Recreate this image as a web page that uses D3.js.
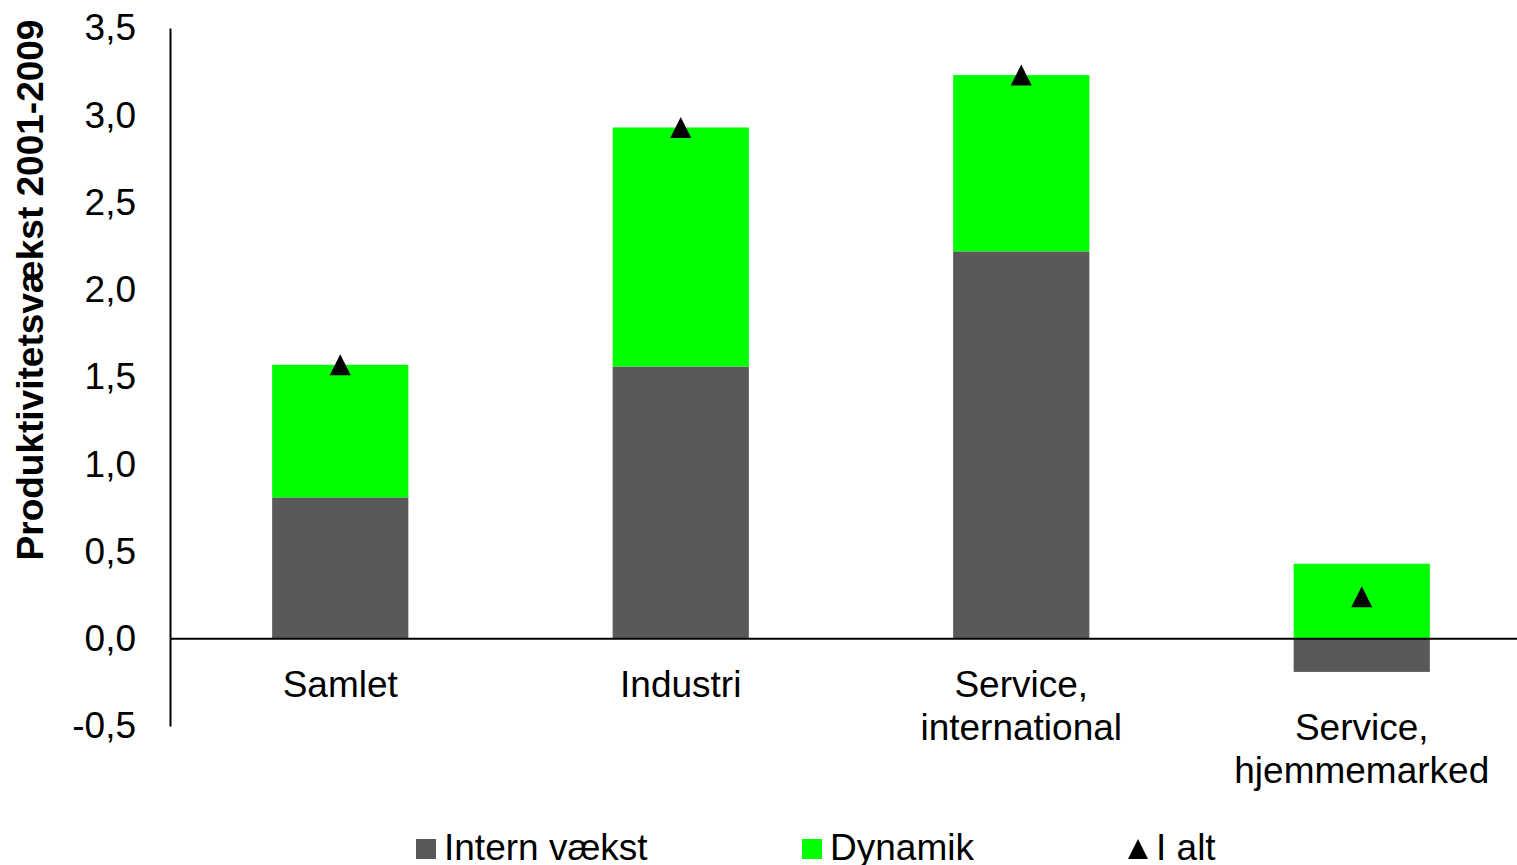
<!DOCTYPE html>
<html>
  <head>
    <script src="https://d3js.org/d3.v7.min.js"></script>
    <style>
      html, body { margin: 0; padding: 0; background: #fff; }
      svg { display: block; font-family: "Liberation Sans", Arial, sans-serif; }
    </style>
  </head>
  <body>
    <svg id="chart" width="1517" height="865"></svg>
    <script>
      // data
      var categories = ["Samlet", "Industri", "Service, international", "Service, hjemmemarked"];
      var labelLines = [["Samlet"], ["Industri"], ["Service,", "international"], ["", "Service,", "hjemmemarked"]];
      var intern = [0.81, 1.56, 2.22, -0.19];
      var dynamik = [0.76, 1.37, 1.01, 0.43];
      var iAlt = [1.57, 2.93, 3.23, 0.24];
      var yTicks = [-0.5, 0, 0.5, 1, 1.5, 2, 2.5, 3, 3.5];
      var seriesNames = ["Intern vækst", "Dynamik", "I alt"];
      var colors = {intern: "#595959", dynamik: "#00ff00", total: "#000000"};

      var svg = d3.select("#chart");
      var fs = 37;

      var x = d3.scaleBand().domain(categories).range([170, 1532]).paddingInner(0).paddingOuter(0);
      var y = d3.scaleLinear().domain([-0.5, 3.5]).range([726, 28]);
      var barW = x.bandwidth() * 0.4;

      var rows = categories.map(function(c, i) {
        return {cat: c, intern: intern[i], dynamik: dynamik[i]};
      });
      var stacked = d3.stack().keys(["intern", "dynamik"]).offset(d3.stackOffsetDiverging)(rows);

      svg.selectAll("g.series")
        .data(stacked)
        .enter()
        .append("g")
        .attr("class", "series")
        .attr("fill", function(d) { return colors[d.key]; })
        .selectAll("rect")
        .data(function(d) { return d; })
        .enter()
        .append("rect")
        .attr("x", function(d) { return x(d.data.cat) + (x.bandwidth() - barW) / 2; })
        .attr("width", barW)
        .attr("y", function(d) { return y(Math.max(d[0], d[1])); })
        .attr("height", function(d) { return Math.abs(y(d[0]) - y(d[1])); });

      // y axis, no tick marks
      var yAxis = d3.axisLeft(y)
        .tickValues(yTicks)
        .tickSize(0)
        .tickPadding(34)
        .tickFormat(function(d) { return d.toFixed(1).replace(".", ","); });

      var gy = svg.append("g").attr("transform", "translate(170,0)").call(yAxis);
      gy.select(".domain").attr("stroke", "#000").attr("stroke-width", 2);
      gy.selectAll("text").attr("font-size", fs).attr("fill", "#000")
        .attr("font-family", "'Liberation Sans', Arial, sans-serif");

      // zero line
      svg.append("line")
        .attr("x1", 170).attr("x2", 1517)
        .attr("y1", y(0)).attr("y2", y(0))
        .attr("stroke", "#000").attr("stroke-width", 2);

      // category labels
      var lab = svg.selectAll("text.cat")
        .data(categories)
        .enter()
        .append("text")
        .attr("class", "cat")
        .attr("text-anchor", "middle")
        .attr("font-size", fs)
        .attr("fill", "#000");
      lab.each(function(c, i) {
        var t = d3.select(this);
        labelLines[i].forEach(function(line, j) {
          t.append("tspan")
            .attr("x", x(c) + x.bandwidth() / 2)
            .attr("y", 697 + j * 43)
            .text(line);
        });
      });

      // triangle marker centred on its bounding box
      var tri = {
        draw: function(ctx, size) {
          var h = Math.sqrt(size);
          ctx.moveTo(0, -h / 2);
          ctx.lineTo(h / 2, h / 2);
          ctx.lineTo(-h / 2, h / 2);
          ctx.closePath();
        }
      };

      svg.selectAll("path.tot")
        .data(iAlt)
        .enter()
        .append("path")
        .attr("class", "tot")
        .attr("d", d3.symbol().type(tri).size(21 * 21))
        .attr("transform", function(d, i) {
          return "translate(" + (x(categories[i]) + x.bandwidth() / 2) + "," + y(d) + ")";
        })
        .attr("fill", colors.total);

      // y title
      svg.append("text")
        .attr("transform", "translate(43,290) rotate(-90)")
        .attr("text-anchor", "middle")
        .attr("font-size", fs)
        .attr("font-weight", "bold")
        .attr("fill", "#000")
        .text("Produktivitetsvækst 2001-2009");

      // legend
      var legendX = [416, 802, 1128];
      var leg = svg.selectAll("g.leg")
        .data(seriesNames)
        .enter()
        .append("g")
        .attr("class", "leg")
        .attr("transform", function(d, i) { return "translate(" + legendX[i] + ",0)"; });

      leg.each(function(d, i) {
        var g = d3.select(this);
        if (i < 2) {
          g.append("rect").attr("x", 0).attr("y", 839).attr("width", 20).attr("height", 20)
            .attr("fill", i === 0 ? colors.intern : colors.dynamik);
        } else {
          g.append("path").attr("d", d3.symbol().type(tri).size(20 * 20))
            .attr("transform", "translate(10,849)").attr("fill", colors.total);
        }
        g.append("text").attr("x", 28).attr("y", 860)
          .attr("font-size", fs).attr("fill", "#000").text(d);
      });
    </script>
  </body>
</html>
